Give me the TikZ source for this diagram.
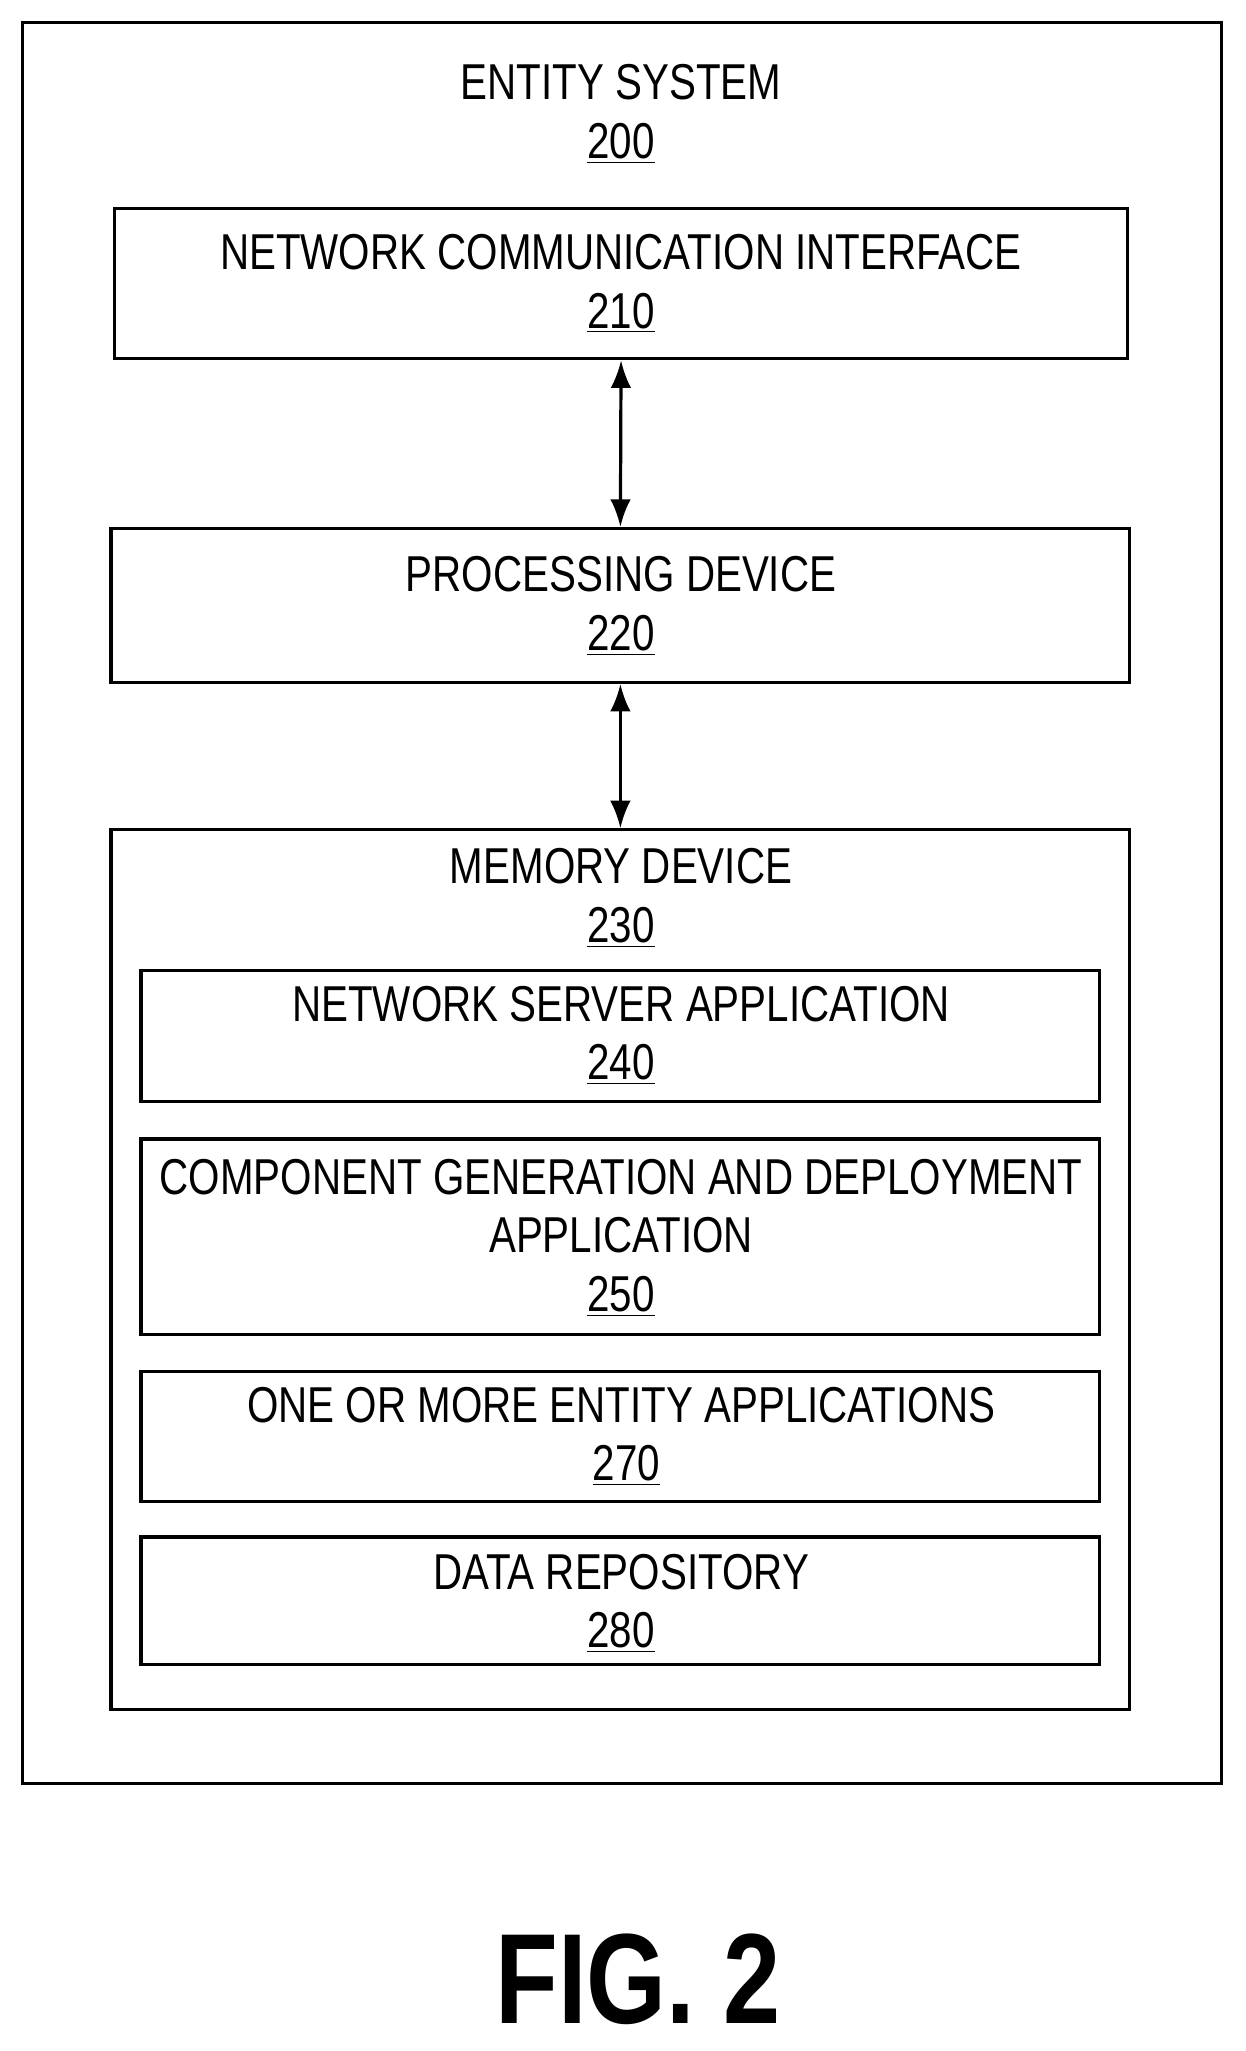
\documentclass[tikz,border=0pt]{standalone}
\usepackage{fontspec}
\setmainfont{Liberation Sans}[FakeStretch=0.8]
\usetikzlibrary{positioning,arrows.meta}
\begin{document}
\begin{tikzpicture}[x=0.02cm,y=-0.02cm,
  box/.style={draw,line width=1.4pt,inner sep=0pt,align=center},
  lbl/.style={font=\fontsize{22}{26}\selectfont,inner sep=0pt},
  link/.style={line width=1.4pt,{Latex[length=12pt,width=9pt]}-{Latex[length=12pt,width=9pt]}}]
\useasboundingbox (0,0) rectangle (955,1572);
\draw [line width=1.4pt] (17,17) rectangle (936,1367);
\node[lbl] (title) at (476,63) {ENTITY SYSTEM};
\node[lbl] (n200) at (476,110) {\underline{200}};
% boxes
\node[box,minimum width=776*0.02cm,minimum height=115*0.02cm] (nci) at (476,217.5) {};
\node[lbl] at (476,193) {NETWORK COMMUNICATION INTERFACE};
\node[lbl] at (476,240) {\underline{210}};
\node[box,minimum width=781*0.02cm,minimum height=118*0.02cm] (proc) at (475.5,464) {};
\node[lbl] at (476,440) {PROCESSING DEVICE};
\node[lbl] at (476,487) {\underline{220}};
\node[box,minimum width=781*0.02cm,minimum height=674*0.02cm] (mem) at (475.5,973) {};
\node[lbl] at (476,664) {MEMORY DEVICE};
\node[lbl] at (476,711) {\underline{230}};
\node[box,minimum width=735*0.02cm,minimum height=100*0.02cm] (nsa) at (475.5,794) {};
\node[lbl] at (476,770) {NETWORK SERVER APPLICATION};
\node[lbl] at (476,816) {\underline{240}};
\node[box,minimum width=735*0.02cm,minimum height=150*0.02cm] (cgd) at (475.5,948) {};
\node[lbl] at (476,902) {COMPONENT GENERATION AND DEPLOYMENT};
\node[lbl] at (476,947) {APPLICATION};
\node[lbl] at (476,994) {\underline{250}};
\node[box,minimum width=735*0.02cm,minimum height=100*0.02cm] (ent) at (475.5,1101) {};
\node[lbl] at (476,1077) {ONE OR MORE ENTITY APPLICATIONS};
\node[lbl] at (480,1123) {\underline{270}};
\node[box,minimum width=735*0.02cm,minimum height=98*0.02cm] (repo) at (475.5,1227) {};
\node[lbl] at (476,1205) {DATA REPOSITORY};
\node[lbl] at (476,1251) {\underline{280}};
% connectors
\draw[link] (nci.south) -- (proc.north);
\draw[link] (proc.south) -- (mem.north);
\node[font=\fontsize{56}{60}\selectfont\bfseries,inner sep=0pt] (fig) at (489,1517) {FIG. 2};
\end{tikzpicture}
\end{document}
